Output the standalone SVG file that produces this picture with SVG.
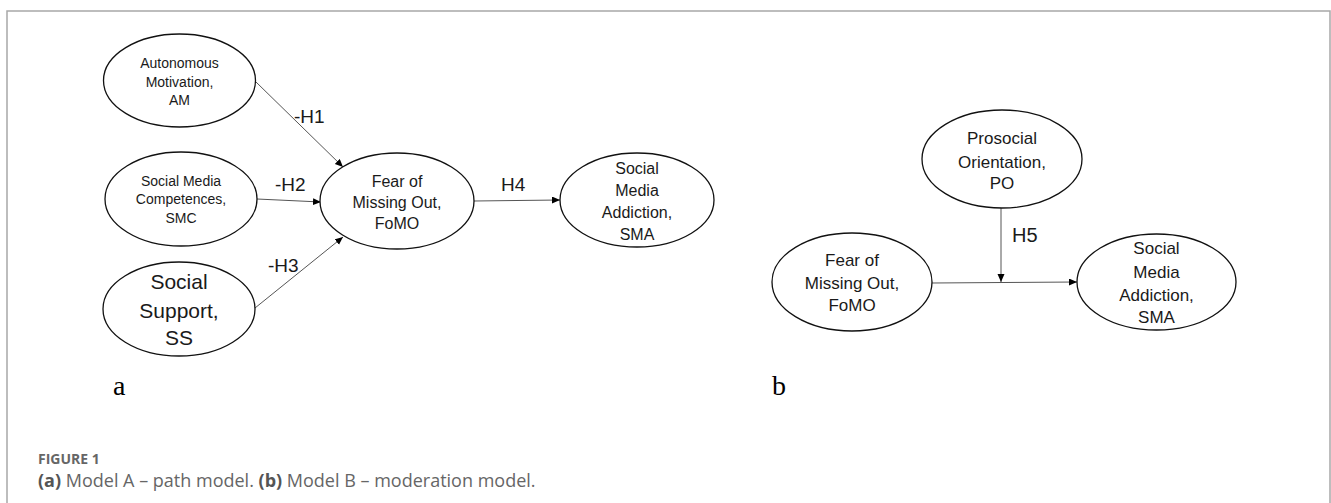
<svg xmlns="http://www.w3.org/2000/svg" width="1331" height="503" viewBox="0 0 1331 503">
<style>
.node ellipse{fill:#fff;stroke:#111;stroke-width:1.3}
.t{font-family:"Liberation Sans",Arial,sans-serif;fill:#1a1a1a;text-anchor:middle}
.lbl{font-family:"Liberation Sans",Arial,sans-serif;fill:#1a1a1a;font-size:19px}
.panel{font-family:"Liberation Serif","Times New Roman",serif;font-size:28px;fill:#000}
.edge{fill:none;stroke:#555;stroke-width:1;marker-end:url(#arr)}
.cap{font-family:"Open Sans","Noto Sans",sans-serif;fill:#666}
</style>
<defs>
<marker id="arr" markerUnits="userSpaceOnUse" markerWidth="9" markerHeight="8" refX="8" refY="3.5" orient="auto">
<path d="M0,0 L8,3.5 L0,7 z" fill="#000"/>
</marker>
</defs>
<rect width="1331" height="503" fill="#fff"/>
<path d="M7,503 V11 H1330 V503" fill="none" stroke="#a8a8a8" stroke-width="1.5"/>

<g id="edges">
<line class="edge" x1="256" y1="82" x2="343" y2="167"/>
<line class="edge" x1="257" y1="199" x2="321" y2="202"/>
<line class="edge" x1="255" y1="308" x2="343" y2="237"/>
<line class="edge" x1="474" y1="201" x2="560" y2="200"/>
<line class="edge" x1="932" y1="283" x2="1077" y2="282"/>
<line class="edge" x1="1001" y1="208" x2="1001" y2="282"/>
</g>

<g id="labels">
<text class="lbl" x="294" y="123">-H1</text>
<text class="lbl" x="275" y="191">-H2</text>
<text class="lbl" x="268" y="272">-H3</text>
<text class="lbl" x="501" y="191">H4</text>
<text class="lbl" x="1012" y="242" style="font-size:20px">H5</text>
<text class="panel" x="113" y="395">a</text>
<text class="panel" x="772" y="395">b</text>
</g>

<g id="AM" class="node">
<ellipse cx="179.5" cy="80.5" rx="76" ry="46.5"/>
<text class="t" font-size="14" x="179.5"><tspan x="179.5" y="68">Autonomous</tspan><tspan x="179.5" y="87">Motivation,</tspan><tspan x="179.5" y="105">AM</tspan></text>
</g>
<g id="SMC" class="node">
<ellipse cx="181" cy="199" rx="76" ry="47"/>
<text class="t" font-size="14"><tspan x="181" y="186">Social Media</tspan><tspan x="181" y="204">Competences,</tspan><tspan x="181" y="223">SMC</tspan></text>
</g>
<g id="SS" class="node">
<ellipse cx="179" cy="309" rx="76" ry="47"/>
<text class="t" font-size="21"><tspan x="179" y="289">Social</tspan><tspan x="179" y="318">Support,</tspan><tspan x="179" y="345">SS</tspan></text>
</g>
<g id="FoMO_a" class="node">
<ellipse cx="397" cy="201" rx="77" ry="48"/>
<text class="t" font-size="16"><tspan x="397" y="187">Fear of</tspan><tspan x="397" y="208">Missing Out,</tspan><tspan x="397" y="229">FoMO</tspan></text>
</g>
<g id="SMA_a" class="node">
<ellipse cx="637" cy="200" rx="77" ry="47"/>
<text class="t" font-size="16"><tspan x="637" y="174">Social</tspan><tspan x="637" y="196">Media</tspan><tspan x="637" y="218">Addiction,</tspan><tspan x="637" y="240">SMA</tspan></text>
</g>
<g id="PO" class="node">
<ellipse cx="1002" cy="159" rx="80" ry="49"/>
<text class="t" font-size="17"><tspan x="1002" y="144">Prosocial</tspan><tspan x="1002" y="168">Orientation,</tspan><tspan x="1002" y="189">PO</tspan></text>
</g>
<g id="FoMO_b" class="node">
<ellipse cx="852" cy="282" rx="80" ry="49"/>
<text class="t" font-size="17"><tspan x="852" y="266">Fear of</tspan><tspan x="852" y="289">Missing Out,</tspan><tspan x="852" y="311">FoMO</tspan></text>
</g>
<g id="SMA_b" class="node">
<ellipse cx="1156.5" cy="282" rx="79.5" ry="48"/>
<text class="t" font-size="17"><tspan x="1156.5" y="254">Social</tspan><tspan x="1156.5" y="278">Media</tspan><tspan x="1156.5" y="301">Addiction,</tspan><tspan x="1156.5" y="323">SMA</tspan></text>
</g>

<g id="caption">
<text class="cap" x="38" y="464" font-size="14" font-weight="bold" fill="#555">FIGURE 1</text>
<text class="cap" x="38" y="487" font-size="18"><tspan font-weight="bold" fill="#555">(a)</tspan> Model A – path model. <tspan font-weight="bold" fill="#555">(b)</tspan> Model B – moderation model.</text>
</g>
</svg>
